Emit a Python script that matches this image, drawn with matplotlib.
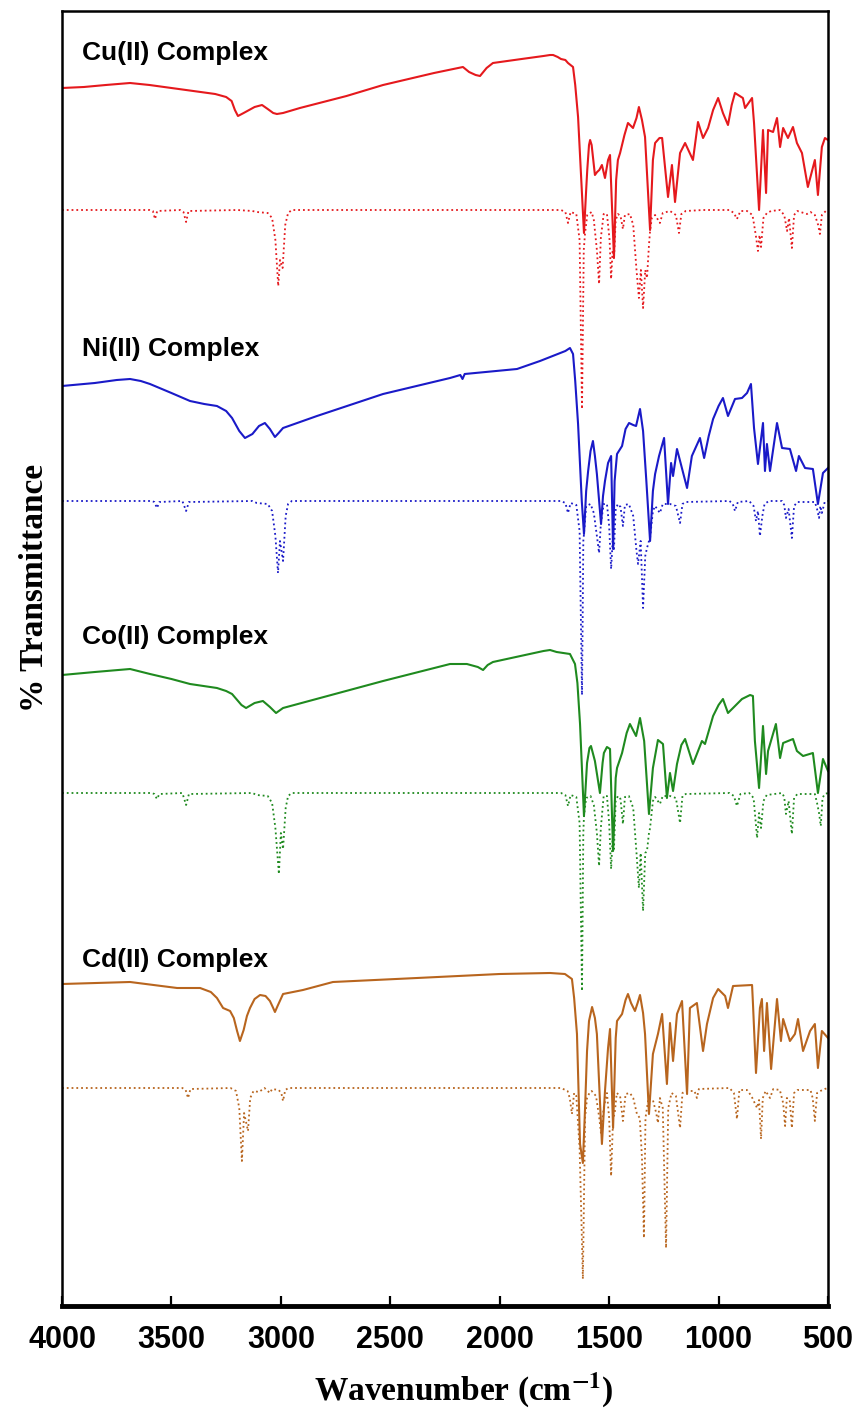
import matplotlib
matplotlib.use("Agg")
import matplotlib.pyplot as plt

# FT-IR spectra of the four complexes: experimental (solid) and calculated (dotted)
# values are (wavenumber, relative transmittance) read off the figure;
# 0 is the baseline of the calculated trace of each complex
complexes = ['Cu(II) Complex', 'Ni(II) Complex', 'Co(II) Complex', 'Cd(II) Complex']
colors = ['#e5191d', '#1a1ac8', '#1f8a1f', '#b8651e']

cu_exp = [(4000, 122), (3900, 123), (3800, 125), (3689, 127), (3600, 125), (3500, 122), (3400, 119),
          (3300, 116), (3250, 113), (3225, 109), (3210, 100), (3196, 94), (3170, 97), (3120, 103),
          (3086, 105), (3060, 101), (3035, 97), (3018, 96), (2990, 97), (2913, 102), (2700, 114),
          (2533, 125), (2300, 137), (2168, 143), (2140, 138), (2110, 135), (2090, 134), (2075, 138),
          (2060, 142), (2031, 147), (1900, 151), (1800, 154), (1770, 155), (1756, 155), (1735, 153),
          (1720, 151), (1700, 150), (1688, 147), (1665, 143), (1655, 125), (1642, 93), (1625, 20),
          (1615, -23), (1605, 20), (1600, 40), (1592, 65), (1587, 70), (1580, 65), (1575, 55),
          (1565, 35), (1555, 38), (1545, 40), (1533, 45), (1519, 32), (1505, 50), (1496, 55),
          (1478, -48), (1468, 30), (1460, 50), (1450, 57), (1430, 75), (1414, 87), (1400, 84),
          (1391, 82), (1375, 92), (1364, 103), (1350, 90), (1336, 73), (1313, -20), (1300, 50),
          (1290, 67), (1270, 72), (1258, 72), (1231, 13), (1213, 45), (1199, 8), (1176, 57),
          (1153, 67), (1117, 50), (1094, 88), (1071, 72), (1048, 82), (1025, 100), (1002, 112),
          (980, 97), (957, 85), (940, 105), (925, 117), (889, 112), (879, 102), (847, 112), (838, 87),
          (815, 0), (797, 80), (783, 17), (774, 80), (751, 78), (733, 92), (719, 63), (705, 82),
          (683, 72), (660, 83), (642, 67), (619, 57), (592, 23), (560, 50), (546, 15), (528, 63),
          (514, 72), (500, 70)]

ni_exp = [(4000, 115), (3850, 118), (3750, 121), (3689, 122), (3640, 120), (3598, 117), (3500, 108),
          (3415, 100), (3350, 97), (3292, 95), (3250, 90), (3223, 83), (3190, 70), (3164, 63),
          (3130, 67), (3100, 75), (3073, 78), (3050, 72), (3027, 64), (3010, 68), (2990, 73),
          (2835, 85), (2533, 107), (2227, 123), (2180, 126), (2170, 122), (2160, 127), (1921, 132),
          (1816, 140), (1700, 150), (1679, 153), (1665, 147), (1655, 120), (1642, 77), (1625, 0),
          (1615, -33), (1605, 10), (1596, 30), (1585, 50), (1574, 60), (1565, 45), (1556, 27),
          (1537, -23), (1528, 5), (1519, 20), (1505, 38), (1491, 45), (1482, -48), (1475, 20),
          (1464, 47), (1441, 55), (1425, 72), (1409, 78), (1390, 76), (1377, 75), (1359, 92),
          (1345, 70), (1330, 20), (1313, -40), (1300, 10), (1290, 27), (1272, 45), (1249, 63),
          (1231, -3), (1217, 38), (1208, 25), (1190, 52), (1144, 13), (1122, 45), (1085, 63),
          (1066, 43), (1045, 65), (1025, 82), (1000, 95), (980, 103), (957, 85), (925, 102),
          (893, 103), (870, 108), (852, 117), (838, 73), (820, 37), (797, 78), (788, 30), (779, 57),
          (765, 30), (733, 78), (710, 53), (674, 52), (646, 30), (633, 45), (605, 33), (569, 32),
          (546, -3), (523, 28), (500, 33)]

co_exp = [(4000, 118), (3850, 121), (3689, 124), (3598, 119), (3500, 114), (3415, 109), (3292, 105),
          (3250, 102), (3223, 99), (3180, 88), (3159, 85), (3120, 90), (3082, 92), (3050, 86),
          (3022, 80), (2990, 85), (2533, 112), (2227, 129), (2150, 129), (2100, 126), (2076, 123),
          (2055, 128), (2031, 131), (1800, 142), (1770, 143), (1740, 141), (1679, 139), (1656, 129),
          (1645, 110), (1633, 69), (1615, -23), (1605, 15), (1601, 30), (1590, 45), (1583, 47),
          (1565, 32), (1542, 0), (1530, 30), (1524, 40), (1510, 46), (1496, 44), (1482, -58),
          (1470, 15), (1464, 25), (1441, 40), (1420, 60), (1405, 69), (1377, 57), (1359, 75),
          (1340, 52), (1318, -21), (1300, 25), (1277, 53), (1254, 49), (1236, -5), (1222, 20),
          (1208, 2), (1190, 29), (1170, 48), (1153, 54), (1117, 29), (1076, 52), (1062, 49),
          (1025, 77), (1000, 88), (980, 94), (957, 80), (934, 85), (893, 94), (856, 98), (843, 97),
          (834, 52), (815, 5), (797, 67), (783, 19), (774, 42), (738, 69), (719, 35), (705, 50),
          (660, 54), (642, 42), (614, 37), (569, 40), (546, 0), (523, 34), (500, 22)]

cd_exp = [(4000, 104), (3689, 106), (3474, 100), (3369, 100), (3320, 96), (3292, 90), (3264, 80),
          (3232, 77), (3215, 70), (3200, 57), (3187, 47), (3170, 58), (3155, 72), (3141, 80),
          (3120, 89), (3095, 93), (3070, 92), (3050, 87), (3035, 80), (3027, 76), (3015, 82),
          (2990, 94), (2899, 98), (2762, 106), (2378, 110), (2000, 114), (1770, 115), (1702, 114),
          (1670, 109), (1660, 90), (1647, 54), (1633, -56), (1620, -75), (1610, -20), (1601, 37),
          (1592, 67), (1578, 81), (1565, 70), (1556, 54), (1533, -56), (1519, -3), (1505, 40),
          (1496, 59), (1482, -40), (1470, 50), (1464, 67), (1441, 74), (1425, 88), (1414, 94),
          (1400, 85), (1382, 77), (1370, 85), (1359, 93), (1345, 75), (1336, 54), (1318, -26),
          (1300, 34), (1277, 54), (1258, 74), (1236, 4), (1222, 65), (1208, 27), (1190, 74),
          (1167, 87), (1144, -6), (1131, 80), (1099, 85), (1071, 37), (1053, 64), (1025, 90),
          (1002, 99), (970, 92), (957, 80), (934, 102), (847, 103), (843, 85), (829, 15), (811, 80),
          (802, 89), (792, 37), (779, 85), (760, 19), (733, 89), (715, 47), (705, 69), (674, 47),
          (651, 54), (637, 69), (614, 37), (582, 57), (560, 64), (546, 20), (528, 57), (500, 50)]

cu_calc = [(4000, 0), (3600, 0), (3585, -1), (3575, -9), (3565, -1), (3460, 0), (3445, -2), (3433, -12),
           (3422, -1), (3200, 0), (3130, -1), (3110, -2), (3060, -3), (3040, -8), (3025, -30),
           (3012, -76), (3004, -50), (2992, -58), (2980, -15), (2967, -3), (2950, 0), (1720, 0),
           (1700, -2), (1688, -13), (1676, -2), (1650, -4), (1635, -30), (1624, -199), (1616, -40),
           (1610, -23), (1600, -5), (1580, -2), (1570, -10), (1556, -40), (1546, -74), (1538, -28),
           (1525, -4), (1510, -4), (1498, -30), (1491, -69), (1484, -40), (1478, -49), (1470, -10),
           (1460, -4), (1448, -6), (1437, -19), (1428, -5), (1405, -4), (1390, -15), (1375, -60),
           (1364, -88), (1355, -60), (1345, -98), (1335, -60), (1327, -68), (1318, -35), (1313, -21),
           (1305, -8), (1290, -5), (1268, -13), (1255, -3), (1222, -1), (1195, -5), (1181, -23),
           (1170, -4), (1150, -1), (1071, 0), (950, 0), (930, -3), (916, -9), (900, -1), (870, -1),
           (845, -5), (830, -25), (820, -41), (813, -25), (806, -37), (795, -8), (779, -3), (760, -1),
           (720, 0), (700, -5), (687, -21), (678, -8), (665, -38), (655, -5), (640, -1), (596, -4),
           (580, -2), (560, -5), (545, -15), (537, -24), (528, -5), (510, -1), (500, 0)]

ni_calc = [(4000, 0), (3590, 0), (3578, -1), (3566, -7), (3555, -1), (3450, 0), (3433, -10), (3420, -1),
           (3130, 0), (3110, -2), (3060, -3), (3040, -10), (3025, -35), (3013, -72), (3004, -40),
           (2990, -60), (2978, -15), (2967, -3), (2950, 0), (1720, 0), (1700, -2), (1688, -12),
           (1676, -2), (1650, -4), (1635, -30), (1624, -194), (1618, -40), (1615, -33), (1605, -5),
           (1585, -3), (1570, -12), (1556, -35), (1546, -52), (1538, -23), (1525, -3), (1510, -3),
           (1500, -25), (1491, -68), (1484, -40), (1478, -48), (1470, -8), (1460, -3), (1448, -6),
           (1437, -25), (1428, -4), (1410, -3), (1390, -15), (1375, -50), (1368, -63), (1356, -40),
           (1345, -107), (1335, -55), (1327, -47), (1318, -40), (1313, -37), (1300, -10), (1290, -5),
           (1268, -12), (1255, -3), (1222, -3), (1195, -5), (1176, -22), (1165, -3), (1150, -1),
           (950, 0), (935, -3), (925, -10), (912, -1), (860, 0), (840, -5), (829, -20), (820, -10),
           (811, -35), (800, -15), (790, -3), (770, 0), (710, 0), (700, -4), (692, -17), (680, -8),
           (665, -37), (655, -5), (640, -1), (560, -1), (550, -8), (541, -17), (535, -5), (528, -12),
           (515, -1), (500, 0)]

co_calc = [(4000, 0), (3590, 0), (3578, -1), (3566, -6), (3555, -1), (3450, 0), (3433, -12), (3420, -1),
           (3130, 0), (3110, -2), (3060, -3), (3040, -10), (3025, -35), (3009, -81), (3000, -40),
           (2990, -56), (2978, -15), (2967, -3), (2950, 0), (1720, 0), (1700, -2), (1688, -13),
           (1676, -2), (1650, -4), (1635, -30), (1624, -198), (1618, -40), (1615, -23), (1605, -5),
           (1585, -3), (1570, -12), (1556, -40), (1546, -73), (1538, -35), (1525, -3), (1510, -3),
           (1500, -30), (1491, -76), (1484, -45), (1478, -56), (1470, -8), (1460, -3), (1448, -6),
           (1437, -31), (1428, -4), (1410, -3), (1390, -15), (1375, -60), (1364, -95), (1356, -60),
           (1345, -118), (1335, -60), (1327, -58), (1318, -40), (1313, -35), (1300, -8), (1290, -4),
           (1268, -11), (1255, -3), (1222, -3), (1195, -5), (1176, -30), (1165, -3), (1150, -1),
           (950, 0), (930, -3), (916, -13), (900, -1), (860, 0), (840, -5), (824, -45), (815, -20),
           (806, -35), (795, -8), (780, -2), (710, 0), (700, -4), (692, -21), (680, -8), (665, -41),
           (655, -5), (640, -1), (560, -1), (550, -10), (541, -20), (533, -33), (525, -5), (515, -1),
           (500, 0)]

cd_calc = [(4000, 0), (3450, 0), (3435, -2), (3424, -10), (3413, -1), (3230, 0), (3205, -3), (3190, -20),
           (3178, -73), (3168, -25), (3150, -43), (3140, -10), (3125, -3), (3100, -4), (3075, 0),
           (3060, -3), (3050, -5), (3040, -1), (3010, -2), (2998, -5), (2990, -13), (2980, -2),
           (2965, 0), (1720, 0), (1690, -3), (1680, -10), (1670, -26), (1660, -5), (1650, -8),
           (1635, -60), (1620, -191), (1610, -30), (1601, -10), (1590, -5), (1580, -3), (1560, -8),
           (1545, -30), (1537, -46), (1525, -20), (1510, -5), (1500, -30), (1491, -88), (1482, -30),
           (1475, -26), (1465, -5), (1450, -8), (1437, -33), (1425, -6), (1405, -5), (1390, -10),
           (1373, -26), (1360, -30), (1350, -70), (1341, -150), (1334, -30), (1320, -10), (1300, -12),
           (1285, -25), (1277, -35), (1268, -10), (1255, -20), (1240, -160), (1230, -20), (1215, -5),
           (1195, -8), (1176, -40), (1165, -5), (1150, -3), (1110, -3), (1099, -10), (1090, -1),
           (950, 0), (930, -5), (916, -31), (905, -2), (870, -2), (850, -8), (835, -15), (824, -20),
           (815, -12), (806, -51), (798, -10), (785, -3), (765, -10), (750, -1), (720, -2), (705, -15),
           (696, -38), (688, -10), (675, -12), (665, -40), (655, -5), (640, -2), (580, -2), (570, -10),
           (560, -33), (550, -5), (535, -3), (515, -1), (500, 0)]

exp_sets = [cu_exp, ni_exp, co_exp, cd_exp]
calc_sets = [cu_calc, ni_calc, co_calc, cd_calc]

# vertical stacking of the four complexes (baseline of calculated trace)
offsets = [1096, 805, 513, 218]
label_y = [1253, 957, 669, 346]

fig = plt.figure(figsize=(8.61, 14.12), dpi=100)
ax = fig.add_axes([62 / 861, 1 - 1306 / 1412, 766 / 861, 1295 / 1412])

for name, col, ex, ca, off, ly in zip(complexes, colors, exp_sets, calc_sets, offsets, label_y):
    ax.plot([p[0] for p in ex], [p[1] + off for p in ex], color=col, lw=1.5,
            solid_joinstyle='round')
    ax.plot([p[0] for p in ca], [p[1] + off for p in ca], color=col, lw=1.3, ls=':')
    ax.text(3910, ly, name, fontsize=19, fontweight='bold', family='Liberation Sans',
            ha='left', va='center')

ax.set_xlim(4000, 500)
ax.set_ylim(0, 1295)
ax.set_xticks([4000, 3500, 3000, 2500, 2000, 1500, 1000, 500])
ax.set_yticks([])
ax.tick_params(axis='x', direction='in', length=7, width=1.6, pad=14)
for lab in ax.get_xticklabels():
    lab.set_family('Liberation Sans')
    lab.set_fontweight('bold')
    lab.set_fontsize(22)

for side in ['left', 'top', 'right']:
    ax.spines[side].set_linewidth(1.8)
ax.spines['bottom'].set_linewidth(3.5)

plt.rcParams['mathtext.fontset'] = 'stix'
fig.text(464 / 861, 1 - 1390 / 1412, r'Wavenumber (cm$^{\mathbf{-1}}$)', family='Liberation Serif',
         fontweight='bold', fontsize=24, ha='center', va='center')
fig.text(35 / 861, 1 - 588 / 1412, '% Transmittance', family='Liberation Serif', fontweight='bold',
         fontsize=24, rotation=90, ha='center', va='center')

fig.savefig('out.png', dpi=100)
